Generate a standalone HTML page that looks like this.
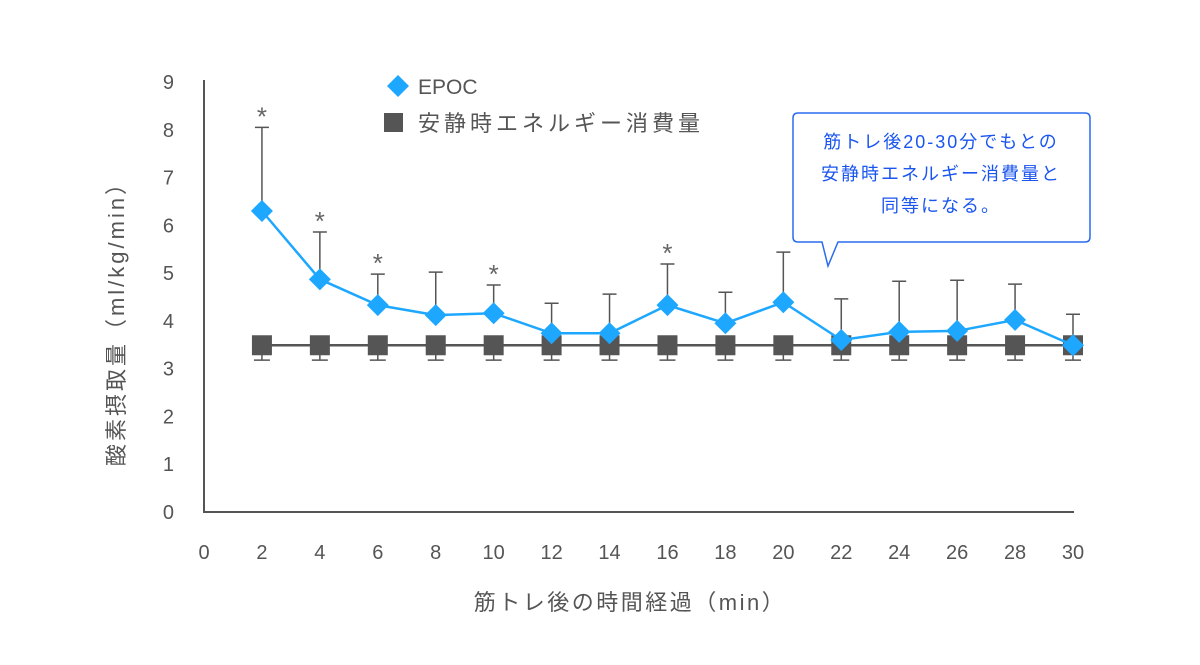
<!DOCTYPE html>
<html><head><meta charset="utf-8"><style>
body{margin:0;background:#fff}
svg text{font-family:"Liberation Sans","Noto Sans CJK JP",sans-serif}
</style></head><body>
<svg id="c" width="1200" height="660" xmlns="http://www.w3.org/2000/svg"></svg>
<script>
const xVals=[2,4,6,8,10,12,14,16,18,20,22,24,26,28,30];
const epoc=[6.3,4.87,4.33,4.12,4.16,3.74,3.74,4.33,3.95,4.39,3.6,3.77,3.79,4.02,3.49];
const epocErrTop=[8.05,5.86,4.98,5.02,4.75,4.37,4.56,5.19,4.6,5.44,4.46,4.83,4.85,4.77,4.14];
const rest=[3.49,3.49,3.49,3.49,3.49,3.49,3.49,3.49,3.49,3.49,3.49,3.49,3.49,3.49,3.49];
const restErrBottom=[3.18,3.18,3.18,3.18,3.18,3.18,3.18,3.18,3.18,3.18,3.18,3.18,3.18,3.18,3.18];
const starAt=[2,4,6,10,16];
const xTicks=[0,2,4,6,8,10,12,14,16,18,20,22,24,26,28,30];
const yTicks=[0,1,2,3,4,5,6,7,8,9];
const X=v=>204+v*(1073-204)/30, Y=v=>512-v*(512-82)/9;
const svg=document.getElementById('c'),NS='http://www.w3.org/2000/svg';
function el(t,a,txt){const e=document.createElementNS(NS,t);for(const k in a)e.setAttribute(k,a[k]);if(txt!=null)e.textContent=txt;svg.appendChild(e);return e;}
let e;
e=el('path',{d:'M204 80V512H1074',fill:'none',stroke:'#555',"stroke-width":2});

yTicks.forEach(t=>{e=el('text',{x:174,y:Y(t)+7,'text-anchor':'end','font-size':20,fill:'#555'},t);
});
xTicks.forEach(t=>{e=el('text',{x:X(t),y:559,'text-anchor':'middle','font-size':20,fill:'#555'},t);
});
e=el('text',{x:0,y:0,'text-anchor':'middle','font-size':22,'letter-spacing':3,fill:'#555',transform:'translate(124,318) rotate(-90)'},'酸素摂取量（ml/kg/min）');

e=el('text',{x:630,y:610,'text-anchor':'middle','font-size':22,'letter-spacing':2.5,fill:'#555'},'筋トレ後の時間経過（min）');

xVals.forEach((x,i)=>{
 e=el('path',{d:`M${X(x)} ${Y(epoc[i])}V${Y(epocErrTop[i])}M${X(x)-7} ${Y(epocErrTop[i])}H${X(x)+7}`,stroke:'#555','stroke-width':1.5,fill:'none'});
 
 e=el('path',{d:`M${X(x)} ${Y(rest[i])}V${Y(restErrBottom[i])}M${X(x)-8} ${Y(restErrBottom[i])}H${X(x)+8}`,stroke:'#555','stroke-width':1.5,fill:'none'});
 
});
e=el('polyline',{points:xVals.map((x,i)=>X(x)+','+Y(rest[i])).join(' '),stroke:'#555','stroke-width':2.5,fill:'none'});

xVals.forEach((x,i)=>{e=el('rect',{x:X(x)-10,y:Y(rest[i])-10,width:20,height:20,fill:'#555'});
});
e=el('polyline',{points:xVals.map((x,i)=>X(x)+','+Y(epoc[i])).join(' '),stroke:'#1EA7FF','stroke-width':2.5,fill:'none'});

xVals.forEach((x,i)=>{const cx=X(x),cy=Y(epoc[i]);e=el('polygon',{points:`${cx},${cy-11} ${cx+11},${cy} ${cx},${cy+11} ${cx-11},${cy}`,fill:'#1EA7FF'});
});
starAt.forEach(x=>{const i=xVals.indexOf(x);e=el('text',{x:X(x),y:Y(epocErrTop[i])-2,'text-anchor':'middle','font-size':26,fill:'#666'},'*');
});
e=el('polygon',{points:'398,75 409,86 398,97 387,86',fill:'#1EA7FF'});
e=el('text',{x:418,y:94,'font-size':21,fill:'#555'},'EPOC');
e=el('rect',{x:384,y:113,width:19,height:19,fill:'#555'});
e=el('text',{x:418,y:131,'font-size':22,'letter-spacing':4,fill:'#555'},'安静時エネルギー消費量');
e=el('path',{d:'M798 113H1085Q1090 113 1090 118V237Q1090 242 1085 242H838L828 266L822 242H798Q793 242 793 237V118Q793 113 798 113Z',fill:'#fff',stroke:'#2a6cf0','stroke-width':1.5});

[['筋トレ後20-30分でもとの',148],['安静時エネルギー消費量と',180],['同等になる。',212]].forEach(([t,y])=>{
e=el('text',{x:941,y:y,'text-anchor':'middle','font-size':18,'letter-spacing':2,fill:'#1a55f0'},t);
});
</script>
</body></html>
